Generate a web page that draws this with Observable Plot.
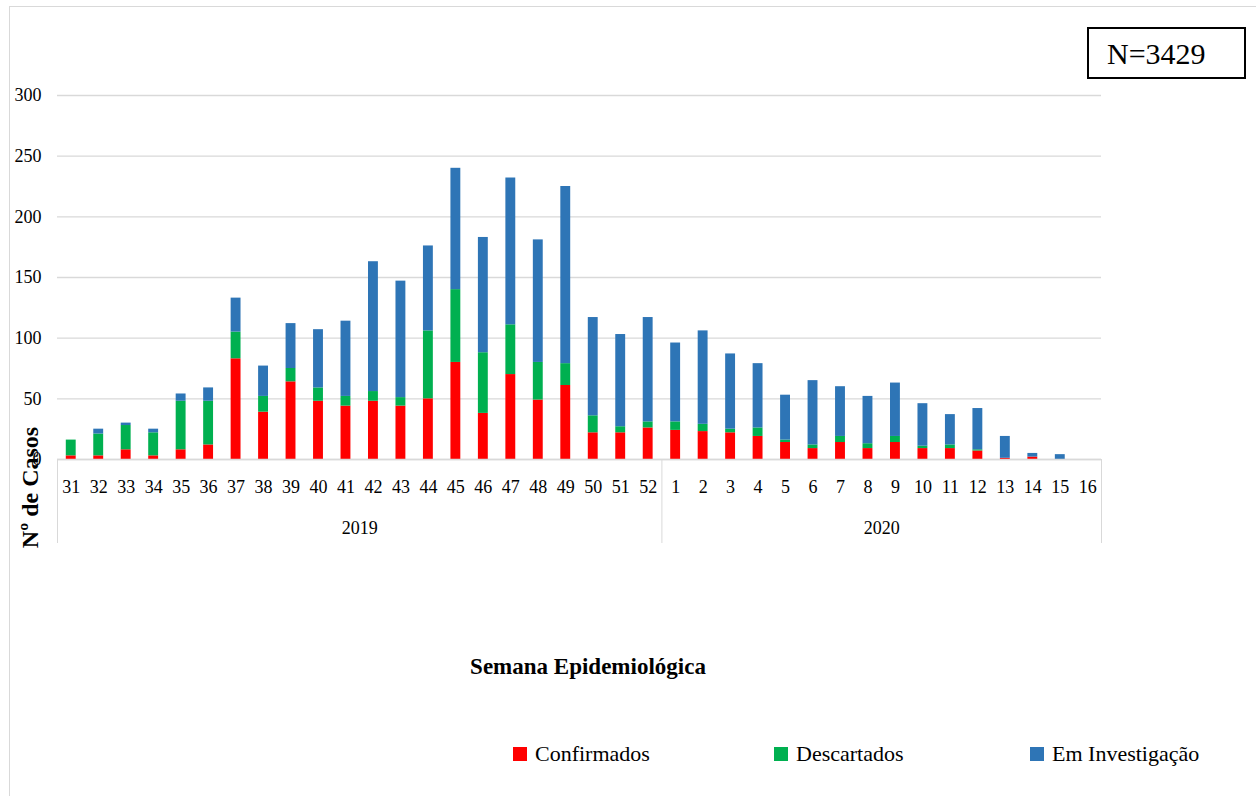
<!DOCTYPE html>
<html>
<head>
<meta charset="utf-8">
<script src="https://cdn.jsdelivr.net/npm/d3@7"></script>
<script src="https://cdn.jsdelivr.net/npm/@observablehq/plot@0.6"></script>
<style>
  html, body { margin: 0; padding: 0; background: #fff; overflow: hidden; }
  #wrap { position: relative; width: 1256px; height: 796px; font-family: "Liberation Serif", "Times New Roman", serif; color: #000; }
  #frame { position: absolute; left: 9px; top: 6px; width: 1260px; height: 800px; border: 1px solid #d9d9d9; }
  #chart { position: absolute; left: 0; top: 0; }
  #chart svg text { font-family: "Liberation Serif", "Times New Roman", serif; }
  #nbox { position: absolute; left: 1087px; top: 27px; width: 137px; height: 48px; padding-left: 18px; border: 2px solid #000; font-size: 30px; line-height: 50px; text-align: left; }
  #xtitle { position: absolute; left: 588px; top: 654px; transform: translateX(-50%); font-size: 23px; font-weight: bold; white-space: nowrap; }
  .leg { position: absolute; top: 741px; font-size: 22px; line-height: 26px; white-space: nowrap; display: flex; align-items: center; }
  .leg span.sw { display: inline-block; width: 14px; height: 14px; margin-right: 8px; }
</style>
</head>
<body>
<div id="wrap">
  <div id="frame"></div>
  <div id="chart"></div>
  <div id="nbox"></div>
  <div id="xtitle"></div>
  <div id="legend"></div>
</div>
<script>
const weeks = [31,32,33,34,35,36,37,38,39,40,41,42,43,44,45,46,47,48,49,50,51,52,1,2,3,4,5,6,7,8,9,10,11,12,13,14,15,16];
const weekYear = [2019,2019,2019,2019,2019,2019,2019,2019,2019,2019,2019,2019,2019,2019,2019,2019,2019,2019,2019,2019,2019,2019,2020,2020,2020,2020,2020,2020,2020,2020,2020,2020,2020,2020,2020,2020,2020,2020];
const years = ["2019", "2020"];
const confirmados = [3,3,8,3,8,12,83,39,64,48,44,48,44,50,80,38,70,49,61,22,22,26,24,23,22,19,14,9,14,9,14,9,9,7,1,2,0,0];
const descartados = [13,18,20,19,40,36,22,13,11,11,8,8,7,56,60,50,41,31,18,14,5,5,7,6,3,7,2,3,5,4,5,2,3,1,0,0,0,0];
const emInvestigacao = [0,4,2,3,6,11,28,25,37,48,62,107,96,70,100,95,121,101,146,81,76,86,65,77,62,53,37,53,41,39,44,35,25,34,18,3,4,0];
const seriesNames = ["Confirmados", "Descartados", "Em Investigação"];
const seriesColors = ["#FF0000", "#00B050", "#2E75B6"];
const yTicks = [0, 50, 100, 150, 200, 250, 300];
const totalN = "N=3429";
const yTitle = "Nº de Casos";
const xTitle = "Semana Epidemiológica";

const FONT = '"Liberation Serif", "Times New Roman", serif';

// build stacked table
const seriesValues = [confirmados, descartados, emInvestigacao];
const rows = [];
weeks.forEach((w, i) => {
  let base = 0;
  seriesValues.forEach((vals, s) => {
    rows.push({i, week: w, series: seriesNames[s], y1: base, y2: base + vals[i]});
    base += vals[i];
  });
});
const idx = weeks.map((_, i) => i);
const yearCenters = years.map(y => d3.mean(idx.filter(i => String(weekYear[i]) === y)));
const yearBounds = [-0.5, ...years.slice(1).map(y => idx.find(i => String(weekYear[i]) === y) - 0.5), weeks.length - 0.5];
const half = 0.18;

const plot = Plot.plot({
  width: 1256,
  height: 600,
  marginLeft: 57,
  marginRight: 155,
  marginTop: 95,
  marginBottom: 141,
  style: {fontFamily: FONT, color: "#000", background: "transparent"},
  x: {domain: [-0.5, weeks.length - 0.5], label: null},
  y: {domain: [0, 300], label: null},
  color: {domain: seriesNames, range: seriesColors},
  marks: [
    Plot.gridY({ticks: yTicks, stroke: "#d9d9d9", strokeOpacity: 1, strokeWidth: 1.3}),
    Plot.rect(rows, {x1: d => d.i - half, x2: d => d.i + half, y1: "y1", y2: "y2", fill: "series"}),
    Plot.ruleY([0], {stroke: "#d9d9d9", strokeWidth: 1.5}),
    Plot.axisY({ticks: yTicks, tickSize: 0, tickPadding: 16, fontSize: 18, fontFamily: FONT, label: null}),
    Plot.axisX({ticks: idx, tickFormat: i => String(weeks[i]), tickSize: 0, tickPadding: 21, fontSize: 18, fontFamily: FONT, label: null}),
    Plot.axisX({ticks: yearBounds, tickFormat: () => "", tickSize: 84, stroke: "#d9d9d9", strokeOpacity: 1, label: null}),
    Plot.axisX({ticks: yearCenters, tickFormat: (c, k) => years[k], tickSize: 0, tickPadding: 62, fontSize: 18, fontFamily: FONT, label: null}),
    Plot.text([yTitle], {text: d => d, frameAnchor: "bottom-left", textAnchor: "middle", lineAnchor: "middle", rotate: -90, dx: -27, dy: 28, fontSize: 24, fontWeight: "bold", fontFamily: FONT})
  ]
});
document.getElementById("chart").appendChild(plot);

document.getElementById("nbox").textContent = totalN;
document.getElementById("xtitle").textContent = xTitle;
const legendLefts = [513, 774, 1030];
const legend = document.getElementById("legend");
seriesNames.forEach((name, k) => {
  const item = document.createElement("div");
  item.className = "leg";
  item.style.left = legendLefts[k] + "px";
  const sw = document.createElement("span");
  sw.className = "sw";
  sw.style.background = seriesColors[k];
  item.appendChild(sw);
  item.appendChild(document.createTextNode(name));
  legend.appendChild(item);
});
</script>
</body>
</html>
